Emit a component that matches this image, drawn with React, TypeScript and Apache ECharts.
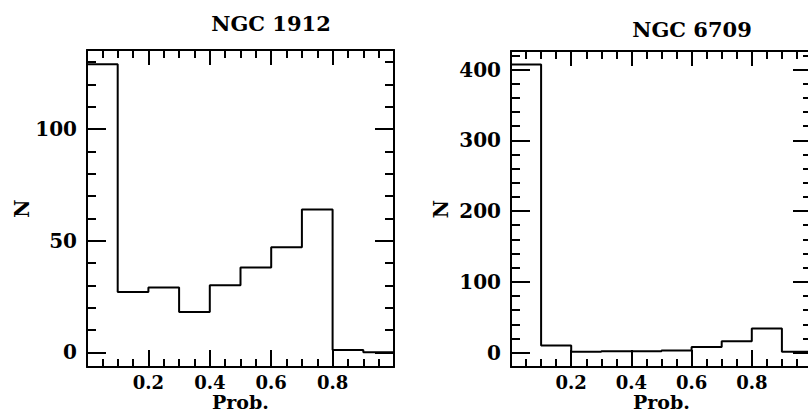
import React, { useEffect, useRef } from "react";
import * as echarts from "echarts";

// Histogram bins (probability) and counts
const binEdges = [0, 0.1, 0.2, 0.3, 0.4, 0.5, 0.6, 0.7, 0.8, 0.9, 1.0];
const ngc1912Counts = [129, 27, 29, 18, 30, 38, 47, 64, 1, 0];
const ngc6709Counts = [407, 10, 1, 2, 2, 3, 8, 16, 34, 1];

const panelTitles = ["NGC 1912", "NGC 6709"];
const xName = "Prob.";
const yName = "N";

// Ticks
const xMajorTicks = [0, 0.2, 0.4, 0.6, 0.8, 1.0];
const xMinorTicks = [0, 0.05, 0.1, 0.15, 0.2, 0.25, 0.3, 0.35, 0.4, 0.45, 0.5, 0.55, 0.6, 0.65, 0.7, 0.75, 0.8, 0.85, 0.9, 0.95, 1.0];
const xTickLabels = [0.2, 0.4, 0.6, 0.8];
const ngc1912YMajor = [0, 50, 100];
const ngc1912YMinor = [0, 10, 20, 30, 40, 50, 60, 70, 80, 90, 100, 110, 120, 130];
const ngc6709YMajor = [0, 100, 200, 300, 400];
const ngc6709YMinor = [0, 20, 40, 60, 80, 100, 120, 140, 160, 180, 200, 220, 240, 260, 280, 300, 320, 340, 360, 380, 400, 420];

const FONT = "DejaVu Serif";

function stepData(counts: number[]) {
  const pts: [number, number][] = counts.map((c, i) => [binEdges[i], c]);
  pts.push([binEdges[counts.length], counts[counts.length - 1]]);
  return pts;
}

function xAxes(gi: number) {
  const base = {
    gridIndex: gi,
    type: "value",
    min: 0,
    max: 1,
    splitLine: { show: false },
  };
  const line = { show: true, onZero: false, lineStyle: { color: "#000", width: 2 } };
  const noLine = { show: false, onZero: false };
  return [
    {
      ...base,
      position: "bottom",
      axisLine: line,
      axisTick: { show: true, inside: true, length: 17, customValues: xMajorTicks, lineStyle: { color: "#000", width: 2 } },
      axisLabel: {
        show: true,
        customValues: xTickLabels,
        formatter: (v: number) => v.toFixed(1),
        margin: 6,
        color: "#000",
        fontFamily: FONT,
        fontWeight: "bold",
        fontSize: 18,
        lineHeight: 18,
      },
      name: xName,
      nameLocation: "middle",
      nameGap: 25,
      nameMoveOverlap: false,
      nameTextStyle: { color: "#000", fontFamily: FONT, fontWeight: "bold", fontSize: 19, lineHeight: 19 },
    },
    {
      ...base,
      position: "bottom",
      axisLine: noLine,
      axisTick: { show: true, inside: true, length: 8, customValues: xMinorTicks, lineStyle: { color: "#000", width: 2 } },
      axisLabel: { show: false },
    },
    {
      ...base,
      position: "top",
      axisLine: line,
      axisTick: { show: true, inside: true, length: 15, customValues: xMajorTicks, lineStyle: { color: "#000", width: 2 } },
      axisLabel: { show: false },
    },
    {
      ...base,
      position: "top",
      axisLine: noLine,
      axisTick: { show: true, inside: true, length: 8, customValues: xMinorTicks, lineStyle: { color: "#000", width: 2 } },
      axisLabel: { show: false },
    },
  ];
}

function yAxes(gi: number, min: number, max: number, major: number[], minor: number[], nameGap: number) {
  const base = {
    gridIndex: gi,
    type: "value",
    min,
    max,
    splitLine: { show: false },
  };
  const line = { show: true, onZero: false, lineStyle: { color: "#000", width: 2 } };
  const noLine = { show: false, onZero: false };
  return [
    {
      ...base,
      position: "left",
      axisLine: line,
      axisTick: { show: true, inside: true, length: 19, customValues: major, lineStyle: { color: "#000", width: 2 } },
      axisLabel: {
        show: true,
        customValues: major,
        margin: 10,
        color: "#000",
        fontFamily: FONT,
        fontWeight: "bold",
        fontSize: 20,
      },
      name: yName,
      nameLocation: "middle",
      nameGap,
      nameMoveOverlap: false,
      nameTextStyle: { color: "#000", fontFamily: FONT, fontWeight: "bold", fontSize: 20 },
    },
    {
      ...base,
      position: "left",
      axisLine: noLine,
      axisTick: { show: true, inside: true, length: 9, customValues: minor, lineStyle: { color: "#000", width: 2 } },
      axisLabel: { show: false },
    },
    {
      ...base,
      position: "right",
      axisLine: line,
      axisTick: { show: true, inside: true, length: 19, customValues: major, lineStyle: { color: "#000", width: 2 } },
      axisLabel: { show: false },
    },
    {
      ...base,
      position: "right",
      axisLine: noLine,
      axisTick: { show: true, inside: true, length: 9, customValues: minor, lineStyle: { color: "#000", width: 2 } },
      axisLabel: { show: false },
    },
  ];
}

export default function App() {
  const ref = useRef<HTMLDivElement>(null);
  useEffect(() => {
    if (!ref.current) return;
    const chart = echarts.init(ref.current, null, { renderer: "svg" });
    const option: any = {
      animation: false,
      backgroundColor: "#fff",
      grid: [
        { left: 87, top: 50, width: 307, height: 317, containLabel: false, outerBoundsMode: "none" },
        { left: 511, top: 51, width: 301, height: 316, containLabel: false, outerBoundsMode: "none" },
      ],
      xAxis: [...xAxes(0), ...xAxes(1)],
      yAxis: [
        ...yAxes(0, -6.6, 135.4, ngc1912YMajor, ngc1912YMinor, 55),
        ...yAxes(1, -20.4, 426.2, ngc6709YMajor, ngc6709YMinor, 60),
      ],
      graphic: [
        {
          type: "text",
          x: 271,
          y: 23,
          style: { text: panelTitles[0], textAlign: "center", textVerticalAlign: "middle", fill: "#000", font: `bold 21px "${FONT}"` },
        },
        {
          type: "text",
          x: 692,
          y: 29,
          style: { text: panelTitles[1], textAlign: "center", textVerticalAlign: "middle", fill: "#000", font: `bold 21px "${FONT}"` },
        },
      ],
      series: [
        {
          type: "line",
          xAxisIndex: 0,
          yAxisIndex: 0,
          step: "end",
          symbol: "none",
          data: stepData(ngc1912Counts),
          lineStyle: { color: "#000", width: 2 },
        },
        {
          type: "line",
          xAxisIndex: 4,
          yAxisIndex: 4,
          step: "end",
          symbol: "none",
          data: stepData(ngc6709Counts),
          lineStyle: { color: "#000", width: 2 },
        },
      ],
    };
    chart.setOption(option);
    return () => chart.dispose();
  }, []);
  return (
    <div
      ref={ref}
      style={{ position: "fixed", left: 0, top: 0, width: 808, height: 415, background: "#fff" }}
    />
  );
}
